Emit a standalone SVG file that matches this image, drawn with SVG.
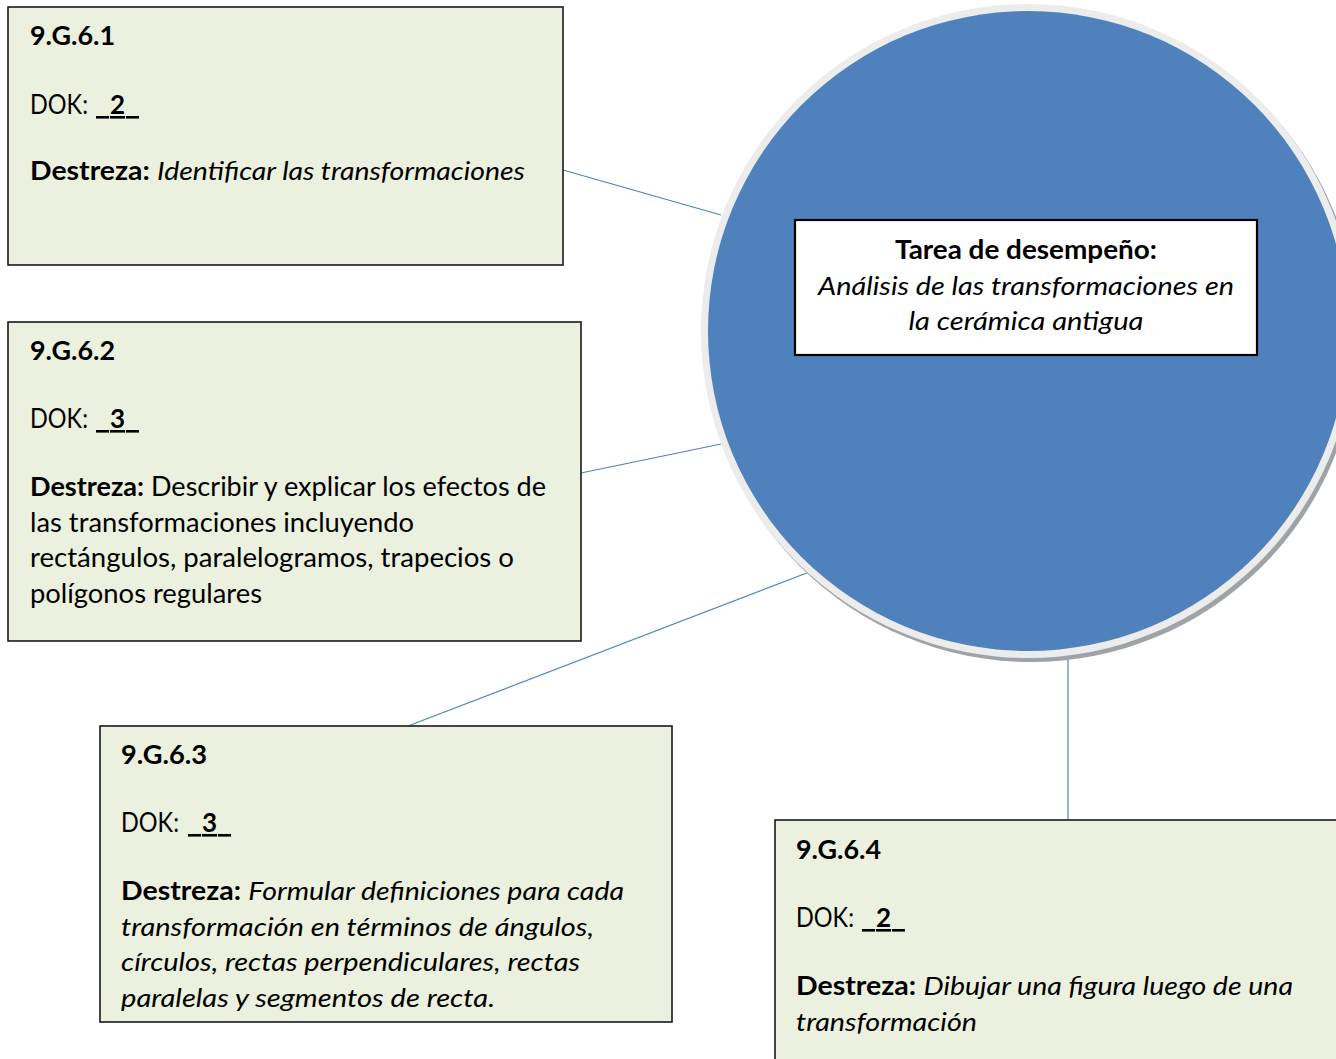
<svg xmlns="http://www.w3.org/2000/svg" width="1336" height="1059" viewBox="0 0 1336 1059">
<style>
.box{fill:#EBF1DE;stroke:#1a1a1a;stroke-width:1.6}
.t{font-family:Lato,"Open Sans","Liberation Sans",sans-serif;font-size:26px;fill:#000}
.b{font-weight:bold}
.i{font-style:italic}
.con{stroke:#4F81BD;stroke-width:1.2;fill:none}
</style>
<rect width="1336" height="1059" fill="#fff"/>
<g id="connectors">
<line class="con" x1="563" y1="170" x2="721" y2="215"/>
<line class="con" x1="581" y1="473" x2="721" y2="444"/>
<line class="con" x1="408" y1="726" x2="812" y2="571"/>
<line class="con" x1="1068" y1="655" x2="1068" y2="820"/>
</g>
<g id="center">
<circle cx="1031" cy="335" r="327" fill="#9ea3a8"/>
<circle cx="1028" cy="331" r="327" fill="#ececec"/>
<circle cx="1028" cy="331" r="320" fill="#4F81BD"/>
<rect x="795" y="220" width="462" height="135" fill="#fff" stroke="#000" stroke-width="2.2"/>
<text class="t b" x="1026" y="259" text-anchor="middle" textLength="262" lengthAdjust="spacingAndGlyphs">Tarea de desempeño:</text>
<text class="t i" x="1026" y="295" text-anchor="middle" textLength="416" lengthAdjust="spacingAndGlyphs">Análisis de las transformaciones en</text>
<text class="t i" x="1026" y="330" text-anchor="middle" textLength="235" lengthAdjust="spacingAndGlyphs">la cerámica antigua</text>
</g>
<g id="n1">
<rect class="box" x="8" y="7" width="555" height="258"/>
<text class="t b" x="30" y="45" textLength="85" lengthAdjust="spacingAndGlyphs">9.G.6.1</text>
<text class="t" x="30" y="114" textLength="58" lengthAdjust="spacingAndGlyphs">DOK:</text>
<text class="t" x="96" y="114" text-decoration="underline" textLength="43">&#8194;<tspan class="b">2</tspan>&#8194;</text>
<text class="t" x="30" y="180" textLength="495" lengthAdjust="spacingAndGlyphs"><tspan class="b">Destreza:</tspan> <tspan class="i">Identificar las transformaciones</tspan></text>
</g>
<g id="n2">
<rect class="box" x="8" y="322" width="573" height="319"/>
<text class="t b" x="30" y="360" textLength="85" lengthAdjust="spacingAndGlyphs">9.G.6.2</text>
<text class="t" x="30" y="428" textLength="58" lengthAdjust="spacingAndGlyphs">DOK:</text>
<text class="t" x="96" y="428" text-decoration="underline" textLength="43">&#8194;<tspan class="b">3</tspan>&#8194;</text>
<text class="t" x="30" y="496" textLength="516" lengthAdjust="spacingAndGlyphs"><tspan class="b">Destreza:</tspan> Describir y explicar los efectos de</text>
<text class="t" x="30" y="531.5" textLength="384" lengthAdjust="spacingAndGlyphs">las transformaciones incluyendo</text>
<text class="t" x="30" y="567" textLength="484" lengthAdjust="spacingAndGlyphs">rectángulos, paralelogramos, trapecios o</text>
<text class="t" x="30" y="602.5" textLength="232" lengthAdjust="spacingAndGlyphs">polígonos regulares</text>
</g>
<g id="n3">
<rect class="box" x="100" y="726" width="572" height="296"/>
<text class="t b" x="121" y="764" textLength="86" lengthAdjust="spacingAndGlyphs">9.G.6.3</text>
<text class="t" x="121" y="832" textLength="58" lengthAdjust="spacingAndGlyphs">DOK:</text>
<text class="t" x="188" y="832" text-decoration="underline" textLength="43">&#8194;<tspan class="b">3</tspan>&#8194;</text>
<text class="t" x="121" y="900" textLength="503" lengthAdjust="spacingAndGlyphs"><tspan class="b">Destreza:</tspan> <tspan class="i">Formular definiciones para cada</tspan></text>
<text class="t i" x="121" y="935.5" textLength="473" lengthAdjust="spacingAndGlyphs">transformación en términos de ángulos,</text>
<text class="t i" x="121" y="971" textLength="459" lengthAdjust="spacingAndGlyphs">círculos, rectas perpendiculares, rectas</text>
<text class="t i" x="121" y="1006.5" textLength="374" lengthAdjust="spacingAndGlyphs">paralelas y segmentos de recta.</text>
</g>
<g id="n4">
<rect class="box" x="775" y="820" width="570" height="250"/>
<text class="t b" x="796" y="859" textLength="85" lengthAdjust="spacingAndGlyphs">9.G.6.4</text>
<text class="t" x="796" y="927" textLength="58" lengthAdjust="spacingAndGlyphs">DOK:</text>
<text class="t" x="862" y="927" text-decoration="underline" textLength="43">&#8194;<tspan class="b">2</tspan>&#8194;</text>
<text class="t" x="796" y="995" textLength="497" lengthAdjust="spacingAndGlyphs"><tspan class="b">Destreza:</tspan> <tspan class="i">Dibujar una figura luego de una</tspan></text>
<text class="t i" x="796" y="1030.5" textLength="181" lengthAdjust="spacingAndGlyphs">transformación</text>
</g>
</svg>
